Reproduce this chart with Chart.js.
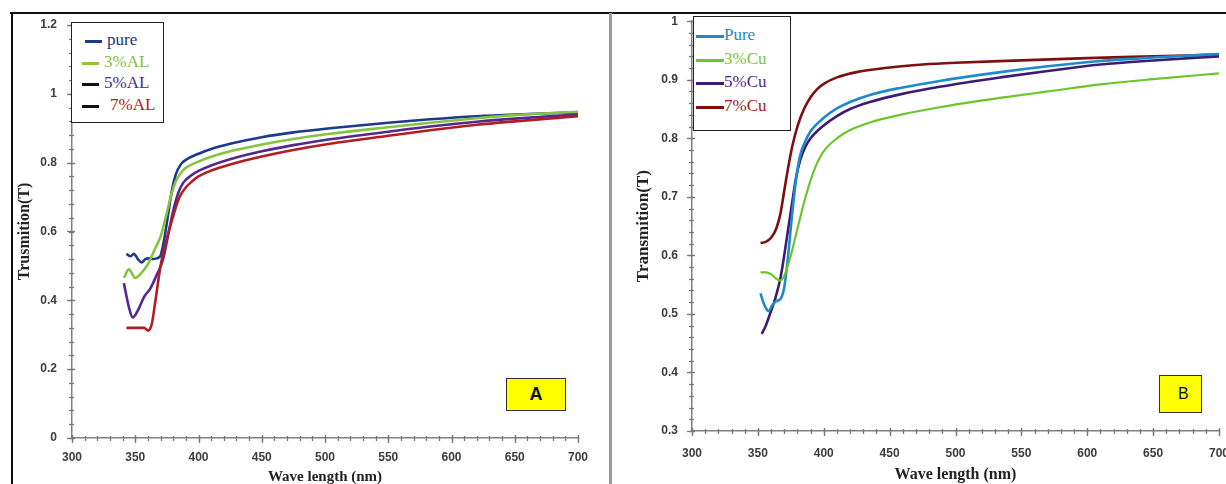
<!DOCTYPE html>
<html>
<head>
<meta charset="utf-8">
<script src="https://cdn.jsdelivr.net/npm/chart.js@4.4.1/dist/chart.umd.min.js"></script>
<style>
  html, body { margin: 0; padding: 0; background: #fff; overflow: hidden; width: 1226px; height: 484px; }
  .abs { position: absolute; }
  .legend { position: absolute; background: #fff; border: 1.5px solid #222; box-sizing: border-box; font-family: "Liberation Serif", "DejaVu Serif", serif; font-size: 17px; }
  .row { position: absolute; height: 20px; line-height: 20px; white-space: nowrap; }
  .sw { position: absolute; height: 2.5px; }
  .tag { position: absolute; background: #ffff00; border: 1.5px solid #333; box-sizing: border-box; font-family: "Liberation Sans", Arial, sans-serif; color: #111; }
</style>
</head>
<body>
<!-- frame -->
<div class="abs" style="left:10px; top:12px; width:1216px; height:2px; background:#111;"></div>
<div class="abs" style="left:11px; top:12px; width:1.5px; height:480px; background:#111;"></div>
<div class="abs" style="left:609px; top:13px; width:2.5px; height:480px; background:#9a9a9a;"></div>

<div class="abs" style="left:0; top:0; width:610px; height:492px;"><canvas id="chartA" width="610" height="492"></canvas></div>
<div class="abs" style="left:612px; top:0; width:640px; height:492px;"><canvas id="chartB" width="640" height="492"></canvas></div>

<!-- legend A -->
<div class="legend" style="left:71px; top:22px; width:93px; height:101px;">
  <div class="sw" style="left:13px; top:17px; width:17px; background:#1c3a8c;"></div>
  <div class="row" style="left:35px; top:7px; color:#1f3577;">pure</div>
  <div class="sw" style="left:10px; top:39px; width:17px; background:#8cc63f;"></div>
  <div class="row" style="left:32px; top:29px; color:#86c23c;">3%AL</div>
  <div class="sw" style="left:10px; top:60px; width:17px; background:#111;"></div>
  <div class="row" style="left:32px; top:50px; color:#4a2a8c;">5%AL</div>
  <div class="sw" style="left:10px; top:82px; width:17px; background:#111;"></div>
  <div class="row" style="left:38px; top:72px; color:#b02025;">7%AL</div>
</div>

<!-- legend B -->
<div class="legend" style="left:693px; top:16px; width:98px; height:115px;">
  <div class="sw" style="left:2px; top:18px; width:28px; background:#1f8ac9;"></div>
  <div class="row" style="left:30px; top:8px; color:#2a86c0;">Pure</div>
  <div class="sw" style="left:2px; top:42px; width:28px; background:#6cc52b;"></div>
  <div class="row" style="left:30px; top:32px; color:#7cc23a;">3%Cu</div>
  <div class="sw" style="left:2px; top:65px; width:28px; background:#3d1c74;"></div>
  <div class="row" style="left:30px; top:55px; color:#4a2a8a;">5%Cu</div>
  <div class="sw" style="left:2px; top:89px; width:28px; background:#7b1010;"></div>
  <div class="row" style="left:30px; top:79px; color:#a02020;">7%Cu</div>
</div>

<div class="tag" style="left:506px; top:378px; width:60px; height:33px; font-size:18px; font-weight:bold; line-height:30px; text-align:center;">A</div>
<div class="tag" style="left:1159px; top:375px; width:43px; height:38px; font-size:16px; line-height:35px; text-align:left; padding-left:18px;">B</div>

<script>
// ---------- Panel A data (Al doped) ----------
const wlA_pure = [343,346,349,352,355,358,361,364,367,370,373,376,379,382,386,390,400,410,425,450,475,504,550,583,620,650,700];
const tA_pure  = [0.535,0.528,0.535,0.52,0.51,0.52,0.522,0.52,0.522,0.53,0.58,0.65,0.72,0.765,0.795,0.808,0.826,0.84,0.855,0.874,0.888,0.90,0.916,0.926,0.935,0.94,0.946];

const wlA_3 = [341,345,350,355,360,365,370,374,378,382,386,390,400,410,425,450,475,504,550,583,620,650,700];
const tA_3  = [0.465,0.49,0.465,0.48,0.505,0.545,0.585,0.64,0.70,0.745,0.77,0.785,0.803,0.817,0.833,0.853,0.869,0.884,0.903,0.916,0.929,0.938,0.948];

const wlA_5 = [341,345,348,352,357,362,367,372,376,380,384,388,395,400,410,425,450,475,504,550,583,620,650,700];
const tA_5  = [0.45,0.38,0.35,0.37,0.41,0.435,0.474,0.52,0.59,0.66,0.712,0.742,0.765,0.776,0.792,0.81,0.833,0.851,0.868,0.89,0.905,0.919,0.928,0.94];

const wlA_7 = [343,350,357,360,363,366,370,375,380,385,390,395,400,410,425,450,475,504,550,583,620,650,700];
const tA_7  = [0.32,0.32,0.32,0.312,0.33,0.40,0.50,0.58,0.645,0.70,0.728,0.746,0.76,0.777,0.795,0.818,0.837,0.855,0.878,0.894,0.91,0.92,0.935];

// ---------- Panel B data (Cu doped) ----------
const wlB_pure = [352,355,358,361,364,367,370,373,376,379,382,386,390,400,410,420,435,458,488,534,570,610,650,700];
const tB_pure  = [0.535,0.515,0.505,0.515,0.522,0.525,0.545,0.60,0.67,0.73,0.77,0.795,0.812,0.835,0.851,0.862,0.874,0.886,0.898,0.913,0.923,0.932,0.938,0.944];

const wlB_3 = [352,356,360,364,367,370,375,380,385,390,395,400,410,420,435,458,488,534,570,610,650,700];
const tB_3  = [0.571,0.571,0.568,0.56,0.557,0.565,0.60,0.645,0.69,0.728,0.758,0.778,0.80,0.814,0.827,0.84,0.853,0.869,0.88,0.892,0.901,0.911];

const wlB_5 = [353,356,360,363,367,370,373,376,379,382,386,390,400,410,420,435,458,488,534,570,610,650,700];
const tB_5  = [0.466,0.48,0.505,0.525,0.56,0.60,0.645,0.69,0.733,0.762,0.785,0.80,0.822,0.838,0.85,0.862,0.875,0.888,0.904,0.915,0.926,0.933,0.94];

const wlB_7 = [352,356,360,364,367,370,373,376,380,385,390,395,400,410,425,450,475,500,550,600,650,700];
const tB_7  = [0.621,0.623,0.63,0.646,0.67,0.71,0.75,0.785,0.82,0.85,0.87,0.884,0.893,0.904,0.913,0.921,0.926,0.929,0.933,0.937,0.94,0.943];

// ---------- Axis ticks ----------
const xTicksAll = [300,350,400,450,500,550,600,650,700];
const yTicksA = [0,0.2,0.4,0.6,0.8,1,1.2];
const yTicksB = [0.3,0.4,0.5,0.6,0.7,0.8,0.9,1];

const pts = (xs, ys) => xs.map((x, i) => ({x: x, y: ys[i]}));

const tickPlugin = {
  id: 'axisTicks',
  afterDraw(chart, args, opts) {
    const ctx = chart.ctx;
    const xs = chart.scales.x, ys = chart.scales.y;
    ctx.save();
    ctx.strokeStyle = '#777';
    ctx.lineWidth = 1.3;
    const drawX = (step, inn, out) => {
      const n = Math.round((xs.max - xs.min) / step);
      for (let i = 0; i <= n; i++) {
        const px = Math.round(xs.getPixelForValue(xs.min + i * step)) + 0.5;
        ctx.beginPath(); ctx.moveTo(px, xs.top - inn); ctx.lineTo(px, xs.top + out); ctx.stroke();
      }
    };
    const drawY = (step, inn, out) => {
      const n = Math.round((ys.max - ys.min) / step);
      for (let i = 0; i <= n; i++) {
        const py = Math.round(ys.getPixelForValue(ys.min + i * step)) + 0.5;
        ctx.beginPath(); ctx.moveTo(ys.right + inn, py); ctx.lineTo(ys.right - out, py); ctx.stroke();
      }
    };
    drawX(opts.xMinor, 2, 3);
    drawX(opts.xMajor, 3, 5);
    drawY(opts.yMinor, 2, 3);
    drawY(opts.yMajor, 3, 5);
    ctx.restore();
  }
};

const tickFont = {family: '"Liberation Sans", Arial, sans-serif', size: 12, weight: 'bold'};
const titleFontFamily = '"Liberation Serif", "DejaVu Serif", serif';

function makeChart(id, datasets, cfg) {
  return new Chart(document.getElementById(id), {
    type: 'line',
    data: { datasets: datasets },
    options: {
      responsive: false,
      animation: false,
      devicePixelRatio: 1,
      layout: { padding: cfg.padding },
      plugins: {
        legend: { display: false },
        tooltip: { enabled: false },
        axisTicks: cfg.ticks
      },
      elements: { point: { radius: 0 }, line: { borderWidth: 2.6, cubicInterpolationMode: 'monotone' } },
      scales: {
        x: {
          type: 'linear', min: 300, max: 700,
          afterBuildTicks: s => { s.ticks = xTicksAll.map(v => ({value: v})); },
          afterFit: s => { s.height = cfg.xHeight; },
          grid: { display: false, drawTicks: false },
          border: { display: true, color: '#808080', width: 1.5 },
          ticks: { font: tickFont, color: '#3c3c3c', padding: cfg.xPad, maxRotation: 0, autoSkip: false },
          title: { display: true, text: 'Wave length (nm)', color: '#222',
                   font: {family: titleFontFamily, size: cfg.xTitleSize, weight: 'bold'},
                   padding: {top: 0, bottom: cfg.xTitlePad} }
        },
        y: {
          type: 'linear', min: cfg.yMin, max: cfg.yMax,
          afterBuildTicks: s => { s.ticks = cfg.yTicks.map(v => ({value: v})); },
          afterFit: s => { s.width = cfg.yWidth; },
          grid: { display: false, drawTicks: false },
          border: { display: true, color: '#808080', width: 1.5 },
          ticks: { font: tickFont, color: '#3c3c3c', padding: cfg.yPad, autoSkip: false,
                   callback: v => String(+v.toFixed(2)) },
          title: { display: true, text: cfg.yTitle, color: '#222',
                   font: {family: titleFontFamily, size: cfg.yTitleSize, weight: 'bold'},
                   padding: {top: cfg.yTitlePad, bottom: 0} }
        }
      }
    },
    plugins: [tickPlugin]
  });
}

makeChart('chartA', [
  { data: pts(wlA_7, tA_7), borderColor: '#b01e22' },
  { data: pts(wlA_5, tA_5), borderColor: '#55288f' },
  { data: pts(wlA_3, tA_3), borderColor: '#86c440' },
  { data: pts(wlA_pure, tA_pure), borderColor: '#1c3a8c' }
], {
  padding: {left: 0, right: 32, top: 25, bottom: 0},
  xHeight: 54, yWidth: 72, xPad: 12, yPad: 15,
  yMin: 0, yMax: 1.2, yTicks: yTicksA,
  yTitle: 'Trusmition(T)', yTitleSize: 16, yTitlePad: 15,
  xTitleSize: 15, xTitlePad: 6,
  ticks: {xMajor: 50, xMinor: 10, yMajor: 0.2, yMinor: 0.04}
});

makeChart('chartB', [
  { data: pts(wlB_3, tB_3), borderColor: '#6cc52b', borderWidth: 2.2 },
  { data: pts(wlB_pure, tB_pure), borderColor: '#1f8ac9' },
  { data: pts(wlB_5, tB_5), borderColor: '#3d1c74' },
  { data: pts(wlB_7, tB_7), borderColor: '#7b1010' }
], {
  padding: {left: 0, right: 33, top: 18, bottom: 0},
  xHeight: 61, yWidth: 80, xPad: 15, yPad: 14,
  yMin: 0.3, yMax: 1, yTicks: yTicksB,
  yTitle: 'Transmition(T)', yTitleSize: 17, yTitlePad: 21,
  xTitleSize: 16, xTitlePad: 8,
  ticks: {xMajor: 50, xMinor: 10, yMajor: 0.1, yMinor: 0.02}
});
</script>
</body>
</html>
